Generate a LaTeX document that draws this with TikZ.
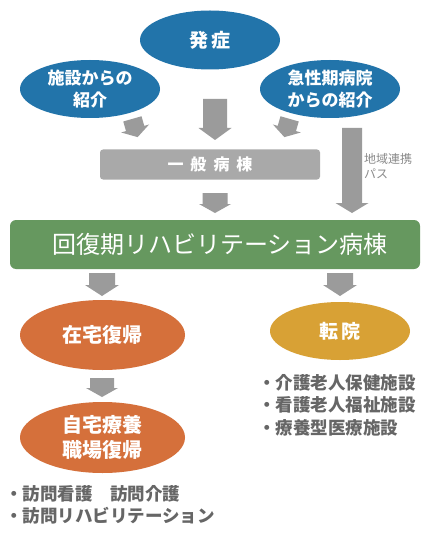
\documentclass[tikz,border=0pt]{standalone}
\usepackage{fontspec}
\setmainfont{Noto Sans CJK JP}
\usetikzlibrary{shapes.geometric}
\definecolor{blueell}{HTML}{2274AA}
\definecolor{grayrect}{HTML}{A9A9A9}
\definecolor{greenbox}{HTML}{66985F}
\definecolor{orangeell}{HTML}{D5703B}
\definecolor{goldell}{HTML}{D8A135}
\definecolor{arrowgray}{HTML}{9B9B9B}
\definecolor{textgray}{HTML}{666666}
\definecolor{notegray}{HTML}{8A8A8A}
\newcommand\blkarrow[7]{% center, length, shaft half, head half, head length, angle, name
  \begin{scope}[shift={#1},rotate=#6]
    \fill[arrowgray] ({-#3},{-#2/2}) -- ({#3},{-#2/2}) -- ({#3},{#2/2-#5}) -- ({#4},{#2/2-#5})
      -- (0,{#2/2}) coordinate (#7) -- ({-#4},{#2/2-#5}) -- ({-#3},{#2/2-#5}) -- cycle;
  \end{scope}}
\begin{document}
\begin{tikzpicture}[x=1pt,y=-1pt,
  ell/.style={ellipse,inner sep=0pt,text=white,font=\bfseries\fontsize{#1}{#1}\selectfont,align=center},
  ell/.default=17,
  listtext/.style={anchor=north west,align=left,text=textgray,inner sep=0pt,font=\bfseries\fontsize{17.5}{22.5}\selectfont}]
\useasboundingbox (0,0) rectangle (430,540);
\fill[white] (0,0) rectangle (430,540);
% top ellipses
\node[ell=19,fill=blueell,minimum width=140pt,minimum height=59pt] (onset) at (210,40) {発\hspace{3pt}症};
\node[ell=17,fill=blueell,minimum width=140pt,minimum height=58pt,font=\bfseries\fontsize{17}{22}\selectfont] (facility) at (90,89) {施設からの\\紹介};
\node[ell=17,fill=blueell,minimum width=140pt,minimum height=58pt,font=\bfseries\fontsize{17}{22}\selectfont] (acute) at (330,89) {急性期病院\\からの紹介};
% arrows top
\blkarrow{(135,128)}{19}{9.5}{14.5}{9}{16}{a1}
\blkarrow{(215,119.5)}{41}{12}{16.5}{12}{0}{a2}
\blkarrow{(287,128)}{19}{9.5}{14.5}{9}{-16}{a3}
\blkarrow{(352,170.5)}{85}{10}{16.5}{10}{0}{a4}
% general ward
\node[fill=grayrect,rounded corners=3pt,minimum width=220pt,minimum height=30pt,inner sep=0pt,text=white,font=\bfseries\fontsize{16}{16}\selectfont] (general) at (210,164.5) {一\hspace{7pt}般\hspace{7pt}病\hspace{7pt}棟};
\node[anchor=north west,align=left,inner sep=0pt,text=notegray,font=\fontsize{12}{15}\selectfont] (path) at (364,153) {地域連携\\パス};
\blkarrow{(215,203)}{20}{12.5}{16}{9}{0}{a5}
% recovery ward
\node[fill=greenbox,rounded corners=6pt,minimum width=410pt,minimum height=49pt,inner sep=0pt,text=white,font=\fontsize{24}{24}\selectfont] (rehab) at (215,244.5) {\hspace{10pt}回復期リハビリテーション病棟};
\blkarrow{(102,284.5)}{23}{13}{17}{11}{0}{a6}
\blkarrow{(340,284.5)}{23}{13}{17}{11}{0}{a7}
% lower ellipses
\node[ell=20,fill=orangeell,minimum width=165pt,minimum height=70pt] (home) at (102.5,335) {在宅復帰};
\blkarrow{(102,387.5)}{19}{12}{16}{9}{0}{a8}
\node[ell=20,fill=orangeell,minimum width=165pt,minimum height=71pt,font=\bfseries\fontsize{20}{25}\selectfont] (work) at (102.5,437.5) {自宅療養\\職場復帰};
\node[ell=19,fill=goldell,minimum width=140pt,minimum height=58pt] (transfer) at (340,331) {転\hspace{3pt}院};
% lists
\node[listtext] (rlist) at (258,374) {・介護老人保健施設\\・看護老人福祉施設\\・療養型医療施設};
\node[listtext] (llist) at (5,485) {・訪問看護　訪問介護\\・訪問リハビリテーション};
\end{tikzpicture}
\end{document}
